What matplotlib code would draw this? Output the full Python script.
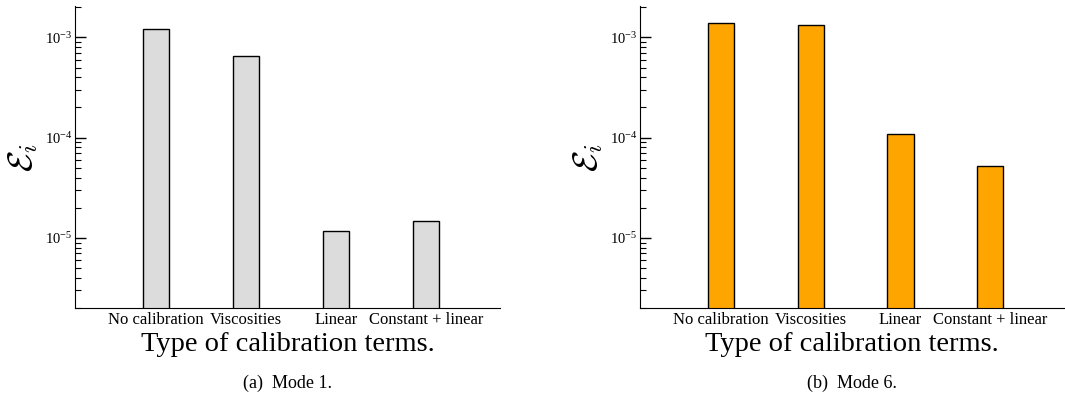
import numpy as np
import matplotlib.pyplot as plt
from matplotlib.ticker import LogLocator, NullFormatter

plt.rcParams['font.family'] = ['Liberation Serif', 'DejaVu Serif']
plt.rcParams['mathtext.fontset'] = 'cm'

# dane
labels = ['No calibration', 'Viscosities', 'Linear', 'Constant + linear']
err_mode1 = [1.2e-3, 6.6e-4, 1.16e-5, 1.47e-5]
err_mode6 = [1.40e-3, 1.32e-3, 1.09e-4, 5.2e-5]
captions = ['(a)  Mode 1.', '(b)  Mode 6.']
colors = ['#dcdcdc', '#ffa500']

fig = plt.figure(figsize=(10.65, 4.03), dpi=100)
ax1 = fig.add_axes([0.0704, 0.2357, 0.399, 0.749])
ax2 = fig.add_axes([0.601, 0.2357, 0.398, 0.749])

X = np.arange(len(labels))

for ax, vals, col, cap in zip([ax1, ax2], [err_mode1, err_mode6], colors, captions):
    ax.bar(X, vals, 0.29, color=col, edgecolor='black', linewidth=1.0)
    ax.set_yscale('log')
    ax.set_ylim(2.0e-6, 2.05e-3)
    ax.set_xlim(-0.9, 3.82)
    ax.spines['top'].set_visible(False)
    ax.spines['right'].set_visible(False)
    ax.set_xticks(X)
    ax.set_xticklabels(labels, fontsize=12)
    ax.tick_params(axis='x', length=0, pad=3)
    ax.yaxis.set_major_locator(LogLocator(base=10, numticks=10))
    ax.yaxis.set_minor_locator(LogLocator(base=10, subs=np.arange(2, 10), numticks=10))
    ax.yaxis.set_minor_formatter(NullFormatter())
    ax.tick_params(axis='y', which='major', direction='in', length=8, width=1, labelsize=10.5, pad=2)
    ax.tick_params(axis='y', which='minor', direction='in', length=4.5, width=0.8)
    ax.set_xlabel('Type of calibration terms.', fontsize=20.5, labelpad=3)
    ax.set_ylabel(r'$\mathcal{E}_i$', fontsize=25, labelpad=3)
    ax.text(0.5, -0.222, cap, transform=ax.transAxes, ha='center', va='top', fontsize=13)

fig.savefig('out.png', dpi=100)
